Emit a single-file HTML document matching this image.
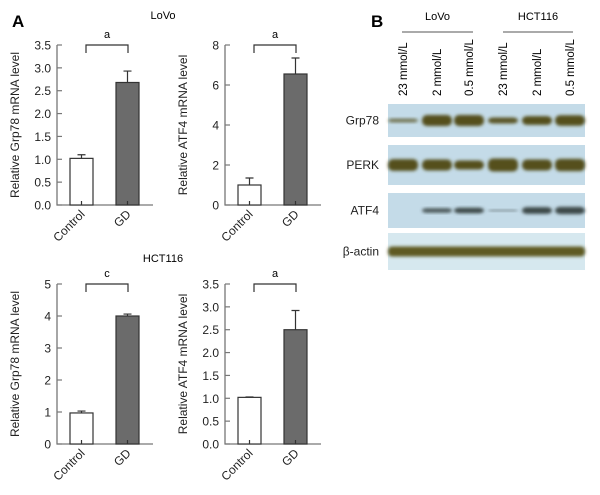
<!DOCTYPE html>
<html><head><meta charset="utf-8"><style>
body{margin:0;background:#fff}
svg{display:block;font-family:"Liberation Sans",sans-serif}
</style></head><body>
<svg id="fig" width="600" height="495" viewBox="0 0 600 495" xmlns="http://www.w3.org/2000/svg">
<defs>
<filter id="blur" x="-20%" y="-50%" width="140%" height="200%"><feGaussianBlur stdDeviation="1.5"/></filter>
</defs>
<text x="12" y="27" font-size="17" font-weight="bold">A</text>
<text x="371" y="27" font-size="17" font-weight="bold">B</text>
<text x="163" y="19" font-size="11" text-anchor="middle">LoVo</text>
<text x="163" y="262" font-size="11" text-anchor="middle">HCT116</text>
<g id="charts"></g>
<g id="blot"></g>
</svg>
<script>
const categories = ["Control", "GD"];
const lovoGrp78 = [1.02, 2.68];
const lovoGrp78Err = [0.08, 0.25];
const lovoAtf4 = [1.0, 6.55];
const lovoAtf4Err = [0.35, 0.8];
const hctGrp78 = [0.97, 4.0];
const hctGrp78Err = [0.06, 0.06];
const hctAtf4 = [1.02, 2.5];
const hctAtf4Err = [0.01, 0.42];
const ticksA = ["0.0","0.5","1.0","1.5","2.0","2.5","3.0","3.5"];
const ticksB = ["0","2","4","6","8"];
const ticksC = ["0","1","2","3","4","5"];
const sigLabels = ["a","a","c","a"];
const lanes = ["23 mmol/L","2 mmol/L","0.5 mmol/L","23 mmol/L","2 mmol/L","0.5 mmol/L"];
const blotRows = ["Grp78","PERK","ATF4","β-actin"];
const grp78Band = [0.35, 1, 1, 0.55, 0.8, 0.95];
const perkBand = [0.9, 0.85, 0.7, 1, 0.85, 0.95];
const atf4Band = [0, 0.5, 0.6, 0.2, 0.75, 0.8];
const actinBand = [0.85, 0.85, 0.85, 0.85, 0.85, 0.85];

const NS="http://www.w3.org/2000/svg";
function mk(tag, attrs, parent){const e=document.createElementNS(NS,tag);for(const k in attrs)e.setAttribute(k,attrs[k]);parent.appendChild(e);return e;}
const charts=document.getElementById('charts');

function chart(name, ax, top, bottom, ticks, vals, errs, ytitle, sig){
  const g=mk('g',{},charts);
  
  
  const max=parseFloat(ticks[ticks.length-1]);
  const y=v=>bottom-(v/max)*(bottom-top);
  const barX=[ax+13, ax+59], bw=23;
  const axis=mk('path',{d:`M${ax} ${top} V${bottom} H${ax+96}`,stroke:'#777',fill:'none','stroke-width':1.3},g);
  
  
  ticks.forEach(t=>{
    const yy=y(parseFloat(t));
    mk('line',{x1:ax,x2:ax+5,y1:yy,y2:yy,stroke:'#777','stroke-width':1.2},g);
    const tx=mk('text',{x:ax-6,y:yy+4.5,'font-size':12,'text-anchor':'end',fill:'#222'},g);
    tx.textContent=t;
    
    
  });
  vals.forEach((v,i)=>{
    const cx=barX[i]+bw/2;
    const b=mk('rect',{x:barX[i],y:y(v),width:bw,height:bottom-y(v),fill:i?'#6b6b6b':'#fff',stroke:'#333','stroke-width':1.2},g);
    
    
    const e=mk('path',{d:`M${cx} ${y(v)} V${y(v+errs[i])} M${cx-4} ${y(v+errs[i])} H${cx+4} M${cx} ${bottom} V${bottom-4}`,stroke:'#333','stroke-width':1.2,fill:'none'},g);
    
    
    const l=mk('text',{transform:`translate(${cx+4},${bottom+10}) rotate(-45)`,'font-size':12,'text-anchor':'end',fill:'#222'},g);
    l.textContent=categories[i];
    
    
  });
  const br=mk('path',{d:`M${barX[0]+16} ${top+8} V${top} H${barX[1]+12} V${top+8}`,stroke:'#333','stroke-width':1.2,fill:'none'},g);
  
  
  const s=mk('text',{x:(barX[0]+barX[1]+28)/2,y:top-7,'font-size':11,'text-anchor':'middle'},g);
  s.textContent=sig;
  
  
  const yt=mk('text',{transform:`translate(${ax-38},${(top+bottom)/2}) rotate(-90)`,'font-size':12,'text-anchor':'middle',fill:'#222'},g);
  yt.textContent=ytitle;
  
  
}
chart('chart-lovo-grp78',57,45,205,ticksA,lovoGrp78,lovoGrp78Err,'Relative Grp78 mRNA level',sigLabels[0]);
chart('chart-lovo-atf4',225,45,205,ticksB,lovoAtf4,lovoAtf4Err,'Relative ATF4 mRNA level',sigLabels[1]);
chart('chart-hct116-grp78',57,284,444,ticksC,hctGrp78,hctGrp78Err,'Relative Grp78 mRNA level',sigLabels[2]);
chart('chart-hct116-atf4',225,284,444,ticksA,hctAtf4,hctAtf4Err,'Relative ATF4 mRNA level',sigLabels[3]);

// Western blot
const blot=document.getElementById('blot');
const laneX=[403,437,469,503,537,570];
[['LoVo',402,473],['HCT116',503,573]].forEach(([n,a,b])=>{
  const t=mk('text',{x:(a+b)/2,y:20,'font-size':11,'text-anchor':'middle'},blot);
  t.textContent=n;
  
  
  const l=mk('line',{x1:a,x2:b,y1:32,y2:32,stroke:'#555','stroke-width':1},blot);
  
  
});
lanes.forEach((ln,i)=>{
  const t=mk('text',{transform:`translate(${laneX[i]+4},96) rotate(-90)`,'font-size':11.5},blot);
  t.textContent=ln;
  
  
});
const rowBox=[[104,137],[145,185],[193,228],[233,270]];
const bands=[grp78Band,perkBand,atf4Band,actinBand];
const bandH=[11,13,9,10];
rowBox.forEach(([a,b],r)=>{
  const box=mk('rect',{x:388,y:a,width:197,height:b-a,fill:r==3?'#d6e8ef':'#c4dbe8'},blot);
  
  
  const lb=mk('text',{x:379,y:(a+b)/2+4,'font-size':12,'text-anchor':'end',fill:'#222'},blot);
  lb.textContent=blotRows[r];
  
  
  const cy=(a+b)/2;
  if(r==3){
    const band=mk('rect',{x:388,y:cy-bandH[r]/2,width:197,height:bandH[r],rx:4,fill:'#5f5a22',filter:'url(#blur)'},blot);
    
    
  }
  bands[r].forEach((v,i)=>{
    if(r==3||v<=0) return;
    const band=mk('rect',{x:laneX[i]-15,y:cy-bandH[r]*v/2,width:30,height:bandH[r]*v,rx:5,fill:r==2?'#3d4a48':'#55501c',opacity:Math.min(1,0.4+v),filter:'url(#blur)'},blot);
    
    
  });
});
</script>
</body></html>
